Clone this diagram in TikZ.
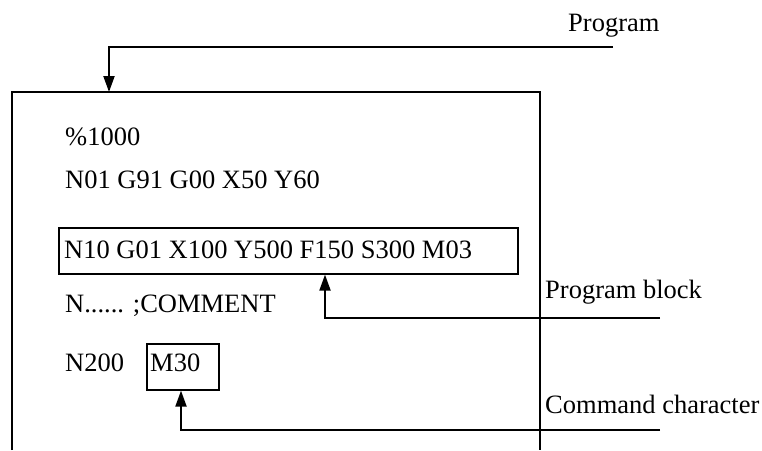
\documentclass[tikz,border=0pt]{standalone}
\usepackage{fontspec}
\setmainfont{Liberation Serif}
\usetikzlibrary{arrows.meta}
\begin{document}
\begin{tikzpicture}[x=1pt,y=-1pt,
  txt/.style={anchor=base west,inner sep=0pt,font=\fontsize{26.5}{30}\selectfont},
  frame/.style={line width=1.6pt},
  conn/.style={line width=2pt,-{Triangle[width=11pt,length=16pt]}}]
\useasboundingbox (0,0) rectangle (762,450);
% main frame (open at bottom)
\draw[frame] (12,450) -- (12,92) -- (540,92) -- (540,450);
% texts
\node[txt] (p1000) at (65,145) {\%1000};
\node[txt] (n01) at (65,188) {N01 G91 G00 X50 Y60};
\node[txt] (n10) at (64,258) {N10 G01 X100 Y500 F150 S300 M03};
\node[txt] (ncom) at (65,312) {N...... ;COMMENT};
\node[txt] (n200) at (65,371) {N200};
\node[txt] (m30) at (150,371) {M30};
\node[txt] (lprog) at (568,31) {Program};
\node[txt] (lblock) at (545,298) {Program block};
\node[txt] (lcmd) at (545,413) {Command character};
% boxes
\node[frame,draw,inner sep=0pt,minimum width=459pt,minimum height=46pt,anchor=north west] (blockbox) at (58,227) {};
\node[frame,draw,inner sep=0pt,minimum width=72pt,minimum height=46pt,anchor=north west] (m30box) at (146,343) {};
% connectors
\coordinate (progend) at (613,47);
\coordinate (blockend) at (660,318);
\coordinate (cmdend) at (660,430);
\draw[conn] (progend) -- (109,47) -- (109,92);
\draw[conn] (blockend) -- (325,318) -- (blockbox.south -| 325,0);
\draw[conn] (cmdend) -- (181,430) -- (m30box.south -| 181,0);
\end{tikzpicture}
\end{document}
